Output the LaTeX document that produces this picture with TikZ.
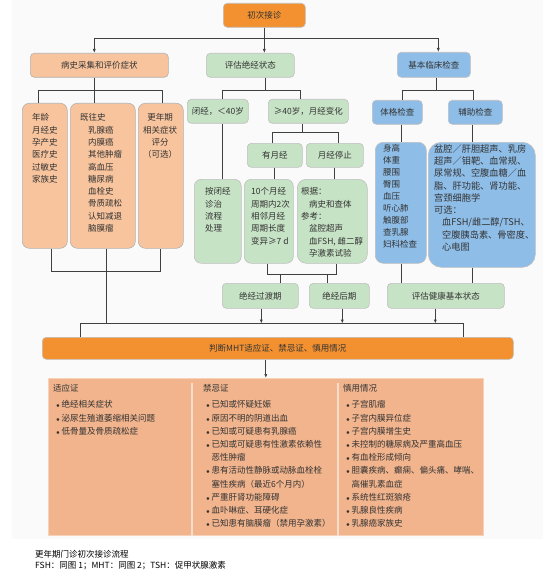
\documentclass[tikz,border=0pt]{standalone}
\usepackage{fontspec}
\newfontfamily\cjk{Noto Sans CJK SC}
\usetikzlibrary{calc, arrows.meta}

\definecolor{mainorange}{HTML}{F39130}
\definecolor{softpeach}{HTML}{F8C49D}
\definecolor{panelpeach}{HTML}{F1B48D}
\definecolor{softgreen}{HTML}{C7E3C5}
\definecolor{softblue}{HTML}{8EBDE7}
\definecolor{bggray}{HTML}{FAFAFA}
\definecolor{ink}{HTML}{333333}

% bullet and hanging indent for the lists at the bottom
\newcommand{\pitem}{\hspace*{3pt}\makebox[5.5pt][l]{$\scriptstyle\bullet$}}
\newcommand{\pcont}{\hspace*{8.5pt}}

\tikzset{
  flowbox/.style={anchor=north west, inner sep=0pt, line width=0.6pt, rounded corners=4pt},
  orangebox/.style={flowbox, fill=mainorange, draw=black!25},
  peachbox/.style={flowbox, fill=softpeach, draw=black!30},
  greenbox/.style={flowbox, fill=softgreen, draw=black!25},
  bluebox/.style={flowbox, fill=softblue, draw=black!25},
  boxtext/.style={anchor=north west, inner sep=0pt, align=left},
  link/.style={draw=black!75, line width=0.7pt},
  arr/.style={link, -{Latex[length=4pt, width=3pt]}},
}

\begin{document}
\begin{tikzpicture}[x=1pt, y=-1pt, font=\cjk\fontsize{8.5}{12.3}\selectfont, text=ink]
  \useasboundingbox (0,0) rectangle (554,575);
  \fill[bggray] (12,0) rectangle (543,539);

  % top row
  \node[orangebox, minimum width=82pt, minimum height=24pt] (start) at (223,3) {初次接诊};
  \node[peachbox, minimum width=138pt, minimum height=24pt] (hist) at (30,53) {病史采集和评价症状};
  \node[greenbox, minimum width=88pt, minimum height=24pt] (meno) at (206,53) {评估绝经状态};
  \node[bluebox, minimum width=73pt, minimum height=25pt] (exam) at (397,52) {基本临床检查};

  \draw[link] (start.south) -- ++(0,11) coordinate (bar1);
  \draw[arr] (bar1) -| ([xshift=-5pt]hist.north);
  \draw[arr] (bar1) -| ([xshift=4.5pt]exam.north);
  \draw[arr] (start.south) -- (start.south |- meno.north);

  % history column
  \node[peachbox, rounded corners=7pt, minimum width=45pt, minimum height=145pt] (age) at (22,103) {};
  \node[peachbox, rounded corners=7pt, minimum width=65pt, minimum height=145pt] (past) at (70,103) {};
  \node[peachbox, rounded corners=7pt, minimum width=45pt, minimum height=145pt] (score) at (138,103) {};
  \node[boxtext] (age-t) at (32,113.5) {年龄\\月经史\\孕产史\\医疗史\\过敏史\\家族史};
  \node[boxtext] (past-t) at (80,113.5) {既往史\\\hspace*{8pt}乳腺癌\\\hspace*{8pt}内膜癌\\\hspace*{8pt}其他肿瘤\\\hspace*{8pt}高血压\\\hspace*{8pt}糖尿病\\\hspace*{8pt}血栓史\\\hspace*{8pt}骨质疏松\\\hspace*{8pt}认知减退\\\hspace*{8pt}脑膜瘤};
  \node[boxtext, anchor=north, align=center] (score-t) at (160,113.5) {更年期\\相关症状\\评分\\（可选）};

  \draw[link] ([xshift=-5pt]hist.south) -- ([xshift=-8.5pt]past.north);
  \draw[link] ([xshift=-6.5pt]age.north) -- ++(0,-13) -| ([xshift=1.5pt]score.north);
  \draw[link] ([xshift=6.5pt]age.south) -- ++(0,23) -| ([xshift=-0.5pt]score.south);
  \draw[link] ([xshift=3.5pt]past.south) -- ++(0,75);

  % menopause status column
  \node[greenbox, minimum width=61pt, minimum height=24pt] (amen) at (187,99) {闭经，＜40岁};
  \node[greenbox, minimum width=80pt, minimum height=24pt] (over40) at (268,99) {≥40岁，月经变化};
  \node[greenbox, minimum width=55pt, minimum height=24pt] (hasm) at (247,143) {有月经};
  \node[greenbox, minimum width=57pt, minimum height=24pt] (stopm) at (306,143) {月经停止};
  \node[greenbox, rounded corners=7pt, minimum width=47pt, minimum height=84pt] (amentx) at (194,179) {};
  \node[greenbox, rounded corners=7pt, minimum width=49pt, minimum height=84pt] (cyc) at (244,179) {};
  \node[greenbox, rounded corners=9pt, minimum width=70pt, minimum height=84pt] (basis) at (297,179) {};
  \node[boxtext] (amentx-t) at (205,187.5) {按闭经\\诊治\\流程\\处理};
  \node[boxtext] (cyc-t) at (251,187.5) {10个月经\\周期内2次\\相邻月经\\周期长度\\变异≥7 d};
  \node[boxtext] (basis-t) at (301,187.5) {根据：\\\hspace*{8pt}病史和查体\\参考：\\\hspace*{8pt}盆腔超声\\\hspace*{8pt}血FSH, 雌二醇\\\hspace*{8pt}孕激素试验};
  \node[greenbox, minimum width=76pt, minimum height=25pt] (trans) at (222,283) {绝经过渡期};
  \node[greenbox, minimum width=60pt, minimum height=25pt] (post) at (309,283) {绝经后期};

  \draw[link] ([xshift=15pt]meno.south) -- ++(0,13);
  \draw[link] ([xshift=4.5pt]amen.north) -- ++(0,-9) -| ([xshift=-8pt]over40.north);
  \draw[link] ([xshift=-6pt]over40.south) -- ++(0,9);
  \draw[link] ([xshift=-2.5pt]hasm.north) -- ++(0,-11) -| ([xshift=3.5pt]stopm.north);
  \draw[link] ([xshift=4.5pt]amen.south) -- ([xshift=4.5pt]amentx.north);
  \draw[link] (hasm.south) -- (hasm.south |- cyc.north);
  \draw[link] (stopm.south) -- (stopm.south |- basis.north);
  \draw[link] ([xshift=-1.5pt]cyc.south) -- ++(0,11) -| ([xshift=4pt]basis.south);
  \draw[link] ([xshift=20pt]trans.north) -- ++(0,-9);
  \draw[link] ([xshift=-12pt]post.north) -- ++(0,-9);

  % clinical examination column
  \node[bluebox, minimum width=50pt, minimum height=24pt] (phys) at (372,100) {体格检查};
  \node[bluebox, minimum width=54pt, minimum height=24pt] (aux) at (448,100) {辅助检查};
  \node[bluebox, rounded corners=8pt, minimum width=51pt, minimum height=121pt] (body) at (375,142) {};
  \node[bluebox, rounded corners=13pt, minimum width=107pt, minimum height=125pt] (auxl) at (428,142) {};
  \node[boxtext, font=\cjk\fontsize{8.5}{12}\selectfont] (body-t) at (383,144.5) {身高\\体重\\腰围\\臀围\\血压\\听心肺\\触腹部\\查乳腺\\妇科检查};
  \node[boxtext, font=\cjk\fontsize{9.2}{12.3}\selectfont] (auxl-t) at (434,144.2) {盆腔／肝胆超声、乳房\\超声／钼靶、血常规、\\尿常规、空腹血糖／血\\脂、肝功能、肾功能、\\宫颈细胞学\\可选：\\\hspace*{8pt}血FSH/雌二醇/TSH、\\\hspace*{8pt}空腹胰岛素、骨密度、\\\hspace*{8pt}心电图};
  \node[greenbox, minimum width=117pt, minimum height=25pt] (health) at (387,283) {评估健康基本状态};

  \draw[link] ([xshift=2.5pt]exam.south) -- ++(0,13);
  \draw[link] ([xshift=5pt]phys.north) -- ++(0,-10) -| ([xshift=-2pt]aux.north);
  \draw[link] ([xshift=4pt]phys.south) -- ([xshift=4pt]phys.south |- body.north);
  \draw[link] ([xshift=-3pt]aux.south) -- ([xshift=-3pt]aux.south |- auxl.north);
  \draw[link] ([xshift=0.5pt]body.south) -- ([xshift=0.5pt]body.south |- health.north);
  \draw[link] ([xshift=-9.5pt]auxl.south) -- ([xshift=-9.5pt]auxl.south |- health.north);

  % MHT decision
  \node[orangebox, minimum width=471pt, minimum height=22pt] (mht) at (42,337) {判断MHT适应证、禁忌证、慎用情况};
  \draw[link] ([xshift=-197.5pt]mht.north) -- ++(0,-14) -| ([xshift=185.5pt]mht.north);
  \draw[arr] ([xshift=1pt]trans.south) -- ++(0,15);
  \draw[arr] ([xshift=3pt]post.south) -- ++(0,15);
  \draw[arr] ([xshift=-10.5pt]health.south) -- ++(0,15);

  % indications panel
  \node[anchor=north west, inner sep=0pt, fill=panelpeach, draw=panelpeach!60!white, line width=0.6pt, minimum width=435pt, minimum height=157pt] (panel) at (48,378) {};
  \draw[arr] (mht.south -| panel.north) -- (panel.north);
  \draw[draw=panelpeach!45!white, line width=1.6pt] ([xshift=144pt, yshift=-5pt]panel.north west) -- ([xshift=144pt]panel.south west);
  \draw[draw=panelpeach!45!white, line width=1.6pt] ([xshift=290pt, yshift=-5pt]panel.north west) -- ([xshift=290pt]panel.south west);
  \begin{scope}[font=\cjk\fontsize{8.5}{13.2}\selectfont]
    \node[boxtext] (ind) at (53,384.5) {适应证\\[2.8pt]\pitem 绝经相关症状\\\pitem 泌尿生殖道萎缩相关问题\\\pitem 低骨量及骨质疏松症};
    \node[boxtext] (contra) at (203,384.5) {禁忌证\\[2.8pt]\pitem 已知或怀疑妊娠\\\pitem 原因不明的阴道出血\\\pitem 已知或可疑患有乳腺癌\\\pitem 已知或可疑患有性激素依赖性\\\pcont 恶性肿瘤\\\pitem 患有活动性静脉或动脉血栓栓\\\pcont 塞性疾病（最近6个月内）\\\pitem 严重肝肾功能障碍\\\pitem 血卟啉症、耳硬化症\\\pitem 已知患有脑膜瘤（禁用孕激素）};
    \node[boxtext] (caution) at (343,384.5) {慎用情况\\[2.8pt]\pitem 子宫肌瘤\\\pitem 子宫内膜异位症\\\pitem 子宫内膜增生史\\\pitem 未控制的糖尿病及严重高血压\\\pitem 有血栓形成倾向\\\pitem 胆囊疾病、癫痫、偏头痛、哮喘、\\\pcont 高催乳素血症\\\pitem 系统性红斑狼疮\\\pitem 乳腺良性疾病\\\pitem 乳腺癌家族史};
  \end{scope}

  % caption
  \node[boxtext, text=black, font=\cjk\fontsize{8.5}{10.5}\selectfont] (cap) at (35,550.5) {更年期门诊初次接诊流程\\FSH：同图 1；MHT：同图 2；TSH：促甲状腺激素};
\end{tikzpicture}
\end{document}
